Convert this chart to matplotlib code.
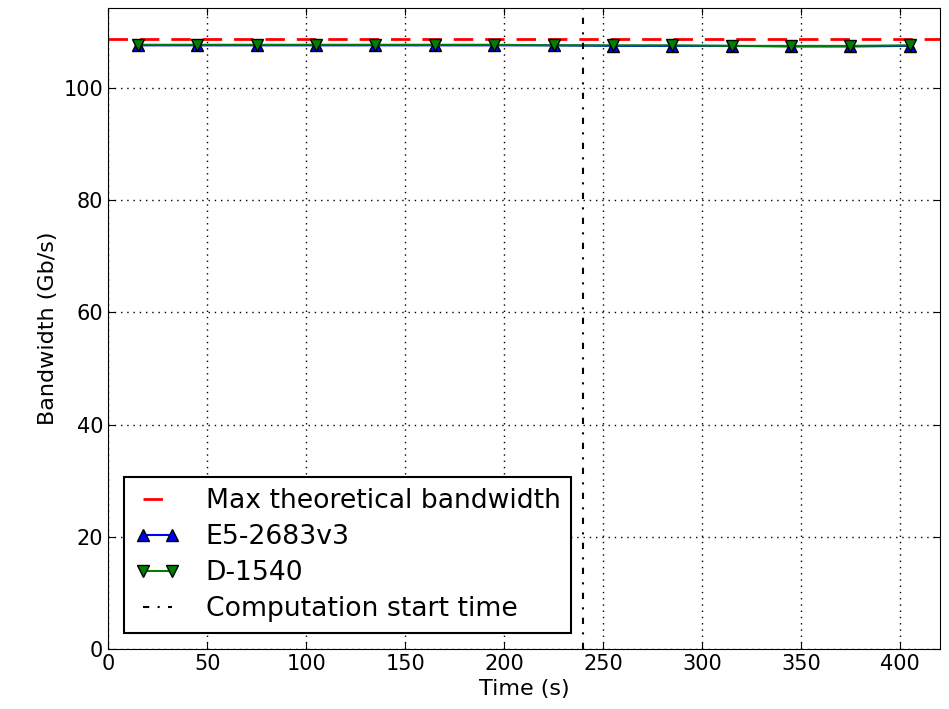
import numpy as np
import matplotlib
matplotlib.use('Agg')
import matplotlib.pyplot as plt

# data
time_s = [15, 45, 75, 105, 135, 165, 195, 225, 255, 285, 315, 345, 375, 405]
e5_bw = [107.6, 107.6, 107.6, 107.6, 107.6, 107.6, 107.6, 107.6, 107.5, 107.5, 107.5, 107.4, 107.4, 107.5]
d1540_bw = [107.7, 107.7, 107.7, 107.7, 107.7, 107.7, 107.7, 107.6, 107.6, 107.6, 107.5, 107.5, 107.5, 107.6]
max_bw = 108.8
comp_start = 240

fig = plt.figure(figsize=(9.49, 7.09), dpi=100)
ax = fig.add_axes([0.114, 0.0846, 0.876, 0.904])

ax.axhline(max_bw, color='r', linestyle='--', dashes=(7, 4.3), linewidth=2, label='Max theoretical bandwidth')
ax.plot(time_s, e5_bw, 'b-^', markersize=9, markeredgecolor='k', linewidth=1.5, label='E5-2683v3')
ax.plot(time_s, d1540_bw, 'g-v', markersize=9, markeredgecolor='k', linewidth=1.5, label='D-1540')
ax.axvline(comp_start, color='k', linestyle='-.', dashes=(3, 4, 1, 4), linewidth=1.5, label='Computation start time')

ax.set_xlim(0, 420)
ax.set_ylim(0, max_bw * 1.05)
ax.set_xticks(np.arange(0, 401, 50))
ax.set_yticks(np.arange(0, 101, 20))
ax.grid(True, color='k', linestyle=':', dashes=(1, 3.5), linewidth=1)
ax.tick_params(labelsize=15, direction='in', length=5, top=True, right=True)

ax.set_xlabel('Time (s)', fontsize=16)
ax.set_ylabel('Bandwidth (Gb/s)', fontsize=16)

leg = ax.legend(loc='lower left', fontsize=19.2, fancybox=False, framealpha=1, numpoints=2,
                handlelength=1.7, handletextpad=0.95, labelspacing=0.38, borderaxespad=0.6)
leg.get_frame().set_edgecolor('k')
leg.get_frame().set_linewidth(1.5)

fig.savefig('out.png', dpi=100)
